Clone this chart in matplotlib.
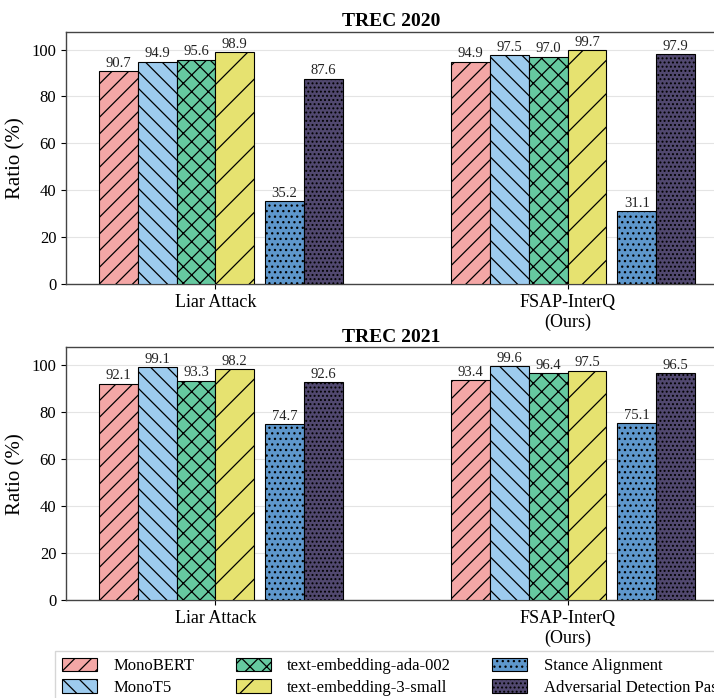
import numpy as np
import matplotlib
matplotlib.use("Agg")
import matplotlib.pyplot as plt

plt.rcParams['font.family'] = ['Liberation Serif', 'DejaVu Serif']
plt.rcParams['hatch.linewidth'] = 0.9

groups = ['Liar Attack', 'FSAP-InterQ\n(Ours)']
methods = ['MonoBERT', 'MonoT5', 'text-embedding-ada-002',
           'text-embedding-3-small', 'Stance Alignment',
           'Adversarial Detection Pass']

trec2020 = [
    [90.7, 94.9],   # MonoBERT
    [94.9, 97.5],   # MonoT5
    [95.6, 97.0],   # ada-002
    [98.9, 99.7],   # 3-small
    [35.2, 31.1],   # Stance Alignment
    [87.6, 97.9],   # Adversarial Detection Pass
]
trec2021 = [
    [92.1, 93.4],
    [99.1, 99.6],
    [93.3, 96.4],
    [98.2, 97.5],
    [74.7, 75.1],
    [92.6, 96.5],
]

colors = ['#F4A7A6', '#9DCBEE', '#66C9A0', '#E6E270', '#5E97CC', '#51486F']
hatches = ['//', '\\\\', 'xx', '/', '...', '....']

width = 0.11
gap = 0.031
x = np.arange(len(groups))


def draw_panel(ax, data, title):
    for i, vals in enumerate(data):
        off = (i - 2.5) * width + (gap if i >= 4 else 0)
        bars = ax.bar(x + off, vals, width, color=colors[i], hatch=hatches[i],
                      edgecolor='black', linewidth=0.8, label=methods[i],
                      zorder=3)
        ax.bar_label(bars, fmt='%.1f', padding=1, fontsize=10.5, color='#222222')
    ax.set_xticks(x)
    ax.set_xticklabels(groups, fontsize=13)
    ax.set_xlim(-0.424, 1.424)
    ax.set_ylim(0, 107.5)
    ax.set_yticks([0, 20, 40, 60, 80, 100])
    ax.tick_params(axis='y', labelsize=12, length=3.5)
    ax.tick_params(axis='x', length=3.5)
    ax.set_ylabel('Ratio (%)', fontsize=15)
    ax.set_title(title, fontsize=14, fontweight='bold', pad=4)
    ax.grid(axis='y', color='#e4e4e4', linewidth=0.8, zorder=0)
    for s in ax.spines.values():
        s.set_color('#444444')
        s.set_linewidth(1.0)


fig = plt.figure(figsize=(7.14, 6.98), dpi=100)
ax1 = fig.add_axes([0.0924, 0.5931, 0.912, 0.3611])
ax2 = fig.add_axes([0.0924, 0.1404, 0.912, 0.3620])

draw_panel(ax1, trec2020, 'TREC 2020')
draw_panel(ax2, trec2021, 'TREC 2021')

handles, labels = ax2.get_legend_handles_labels()
fig.legend(handles, labels,
           loc='upper left', bbox_to_anchor=(0.066, 0.0795), ncol=3,
           fontsize=12, frameon=True, fancybox=False, edgecolor='#cccccc',
           handlelength=2.1, handleheight=0.9, handletextpad=1.0,
           columnspacing=2.45, labelspacing=0.3, borderpad=0.4)

fig.savefig('out.png', dpi=100)
